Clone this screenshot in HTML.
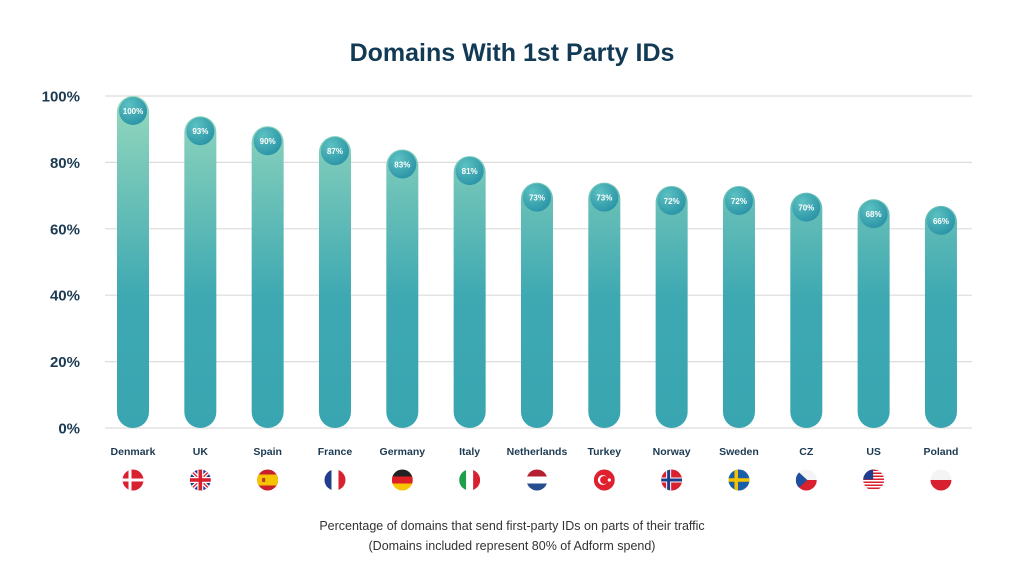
<!DOCTYPE html>
<html><head><meta charset="utf-8"><style>
html,body{margin:0;padding:0;background:#fff;}
svg{display:block;font-family:"Liberation Sans",sans-serif;}
</style></head><body>
<svg id="s" width="1024" height="576" viewBox="0 0 1024 576" xmlns="http://www.w3.org/2000/svg">
<defs>
<linearGradient id="bg" x1="0" y1="96" x2="0" y2="428" gradientUnits="userSpaceOnUse">
<stop offset="0" stop-color="#95d8bd"/><stop offset="0.6" stop-color="#3fa9b2"/><stop offset="1" stop-color="#38a5b0"/>
</linearGradient>
<radialGradient id="cg" cx="0.35" cy="0.3" r="0.75">
<stop offset="0" stop-color="#5cc2c2"/><stop offset="1" stop-color="#2a93a6"/>
</radialGradient>
</defs>
<text x="512" y="61" text-anchor="middle" font-size="25" font-weight="bold" fill="#123a55">Domains With 1st Party IDs</text>
<g id="grid" stroke="#dcdcdc" stroke-width="1.2"></g>
<g id="ylab" font-size="15" font-weight="bold" fill="#1c3a52" text-anchor="end"></g>
<g id="bars"></g>
<text x="512" y="530" text-anchor="middle" font-size="12.5" fill="#333">Percentage of domains that send first-party IDs on parts of their traffic</text>
<text x="512" y="550" text-anchor="middle" font-size="12.5" fill="#333">(Domains included represent 80% of Adform spend)</text>
</svg>
<script>
var NS="http://www.w3.org/2000/svg";
function el(p,t,a,txt){var e=document.createElementNS(NS,t);for(var k in a)e.setAttribute(k,a[k]);if(txt!=null)e.textContent=txt;p.appendChild(e);return e;}
var g=document.getElementById('grid'),yl=document.getElementById('ylab'),b=document.getElementById('bars');
for(var i=0;i<=5;i++){var y=428-i*66.4;el(g,'line',{x1:105,x2:972,y1:y,y2:y});el(yl,'text',{x:80,y:y+5.5},(i*20)+'%');}
var d=[["Denmark",100,"dk"],["UK",93,"uk"],["Spain",90,"es"],["France",87,"fr"],["Germany",83,"de"],["Italy",81,"it"],["Netherlands",73,"nl"],["Turkey",73,"tr"],["Norway",72,"no"],["Sweden",72,"se"],["CZ",70,"cz"],["US",68,"us"],["Poland",66,"pl"]];
d.forEach(function(r,i){
 var cx=133+i*67.33,top=428-3.32*r[1]-(r[1]<100?3:0),w=32;
 el(b,'rect',{x:cx-w/2,y:top,width:w,height:428-top,rx:16,fill:'url(#bg)'});
 el(b,'circle',{cx:cx,cy:top+15,r:14,fill:'url(#cg)'});
 el(b,'text',{x:cx,y:top+18,'text-anchor':'middle','font-size':8,'font-weight':'bold',fill:'#fff'},r[1]+'%');
 el(b,'text',{x:cx,y:455,'text-anchor':'middle','font-size':10.5,'font-weight':'bold',fill:'#1c3a52'},r[0]);
 var fy=480,R=10.5,id='c'+i;
 var cp=el(b,'clipPath',{id:id});el(cp,'circle',{cx:cx,cy:fy,r:R});
 var f=el(b,'g',{'clip-path':'url(#'+id+')'});
 var x0=cx-R,y0=fy-R,S=2*R;
 function rc(x,y,w,h,c){el(f,'rect',{x:x,y:y,width:w,height:h,fill:c});}
 var red='#d8202f',blue='#1f3e8c';
 switch(r[2]){
  case 'dk':rc(x0,y0,S,S,red);rc(x0+6,y0,3,S,'#fff');rc(x0,fy-1.5,S,3,'#fff');break;
  case 'no':rc(x0,y0,S,S,red);rc(x0+5,y0,5,S,'#fff');rc(x0,fy-2.5,S,5,'#fff');rc(x0+6,y0,3,S,blue);rc(x0,fy-1.5,S,3,blue);break;
  case 'se':rc(x0,y0,S,S,'#1a5ea8');rc(x0+6,y0,3.5,S,'#f5c400');rc(x0,fy-1.75,S,3.5,'#f5c400');break;
  case 'uk':rc(x0,y0,S,S,blue);el(f,'path',{d:'M'+x0+' '+y0+'L'+(x0+S)+' '+(y0+S)+'M'+(x0+S)+' '+y0+'L'+x0+' '+(y0+S),stroke:'#fff','stroke-width':4});el(f,'path',{d:'M'+x0+' '+y0+'L'+(x0+S)+' '+(y0+S)+'M'+(x0+S)+' '+y0+'L'+x0+' '+(y0+S),stroke:red,'stroke-width':1.3});rc(cx-3,y0,6,S,'#fff');rc(x0,fy-3,S,6,'#fff');rc(cx-1.8,y0,3.6,S,red);rc(x0,fy-1.8,S,3.6,red);break;
  case 'es':rc(x0,y0,S,S,'#c8202a');rc(x0,y0+5,S,11,'#f5c400');rc(x0+5,fy-2,3,4,'#b0402a');break;
  case 'fr':rc(x0,y0,7,S,blue);rc(x0+7,y0,7,S,'#fff');rc(x0+14,y0,7,S,red);break;
  case 'it':rc(x0,y0,7,S,'#1e9e48');rc(x0+7,y0,7,S,'#fff');rc(x0+14,y0,7,S,red);break;
  case 'de':rc(x0,y0,S,7,'#222');rc(x0,y0+7,S,7,'#dd1f26');rc(x0,y0+14,S,7,'#f7c600');break;
  case 'nl':rc(x0,y0,S,7,'#b52030');rc(x0,y0+7,S,7,'#fff');rc(x0,y0+14,S,7,'#274d8f');break;
  case 'pl':rc(x0,y0,S,S/2,'#f4f4f4');rc(x0,fy,S,S/2,red);break;
  case 'tr':rc(x0,y0,S,S,'#e0202c');el(f,'circle',{cx:cx-1.5,cy:fy,r:5,fill:'#fff'});el(f,'circle',{cx:cx-0.2,cy:fy,r:4,fill:'#e0202c'});el(f,'circle',{cx:cx+5,cy:fy,r:1.6,fill:'#fff'});break;
  case 'cz':rc(x0,y0,S,S/2,'#f4f4f4');rc(x0,fy,S,S/2,red);el(f,'path',{d:'M'+x0+' '+y0+'L'+(cx+1)+' '+fy+'L'+x0+' '+(y0+S)+'Z',fill:'#1f4e9c'});break;
  case 'us':rc(x0,y0,S,S,'#fff');for(var k=0;k<7;k++)rc(x0,y0+k*3,S,1.5,red);rc(x0,y0,10,10,blue);break;
 }
});
</script>
</body></html>
